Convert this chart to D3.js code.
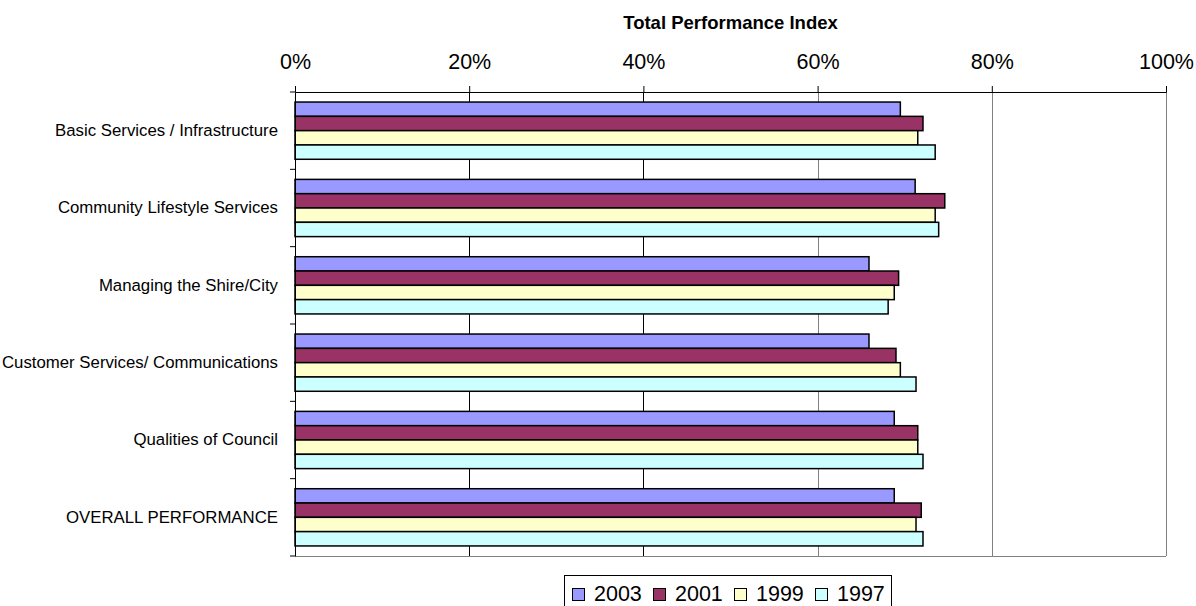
<!DOCTYPE html>
<html><head><meta charset="utf-8">
<script src="https://cdn.jsdelivr.net/npm/d3@7"></script>
<style>html,body{margin:0;padding:0;background:#fff;}svg{display:block;font-family:Arial,"Liberation Sans",sans-serif;}</style>
</head><body>
<svg id="c" width="1196" height="606"></svg>
<script>
const categories = ["Basic Services / Infrastructure","Community Lifestyle Services","Managing the Shire/City","Customer Services/ Communications","Qualities of Council","OVERALL PERFORMANCE"];
const seriesNames = ["2003","2001","1999","1997"];
const v2003 = [69.5, 71.2, 65.9, 65.9, 68.8, 68.8];
const v2001 = [72.1, 74.6, 69.3, 69.0, 71.5, 71.9];
const v1999 = [71.5, 73.5, 68.8, 69.5, 71.5, 71.3];
const v1997 = [73.5, 73.9, 68.1, 71.3, 72.1, 72.1];
const tickValues = [0, 20, 40, 60, 80, 100];
const colors = ["#9999FF","#993366","#FFFFCC","#CCFFFF"];
const seriesValues = [v2003, v2001, v1999, v1997];

const svg = d3.select("#c");
const L = 295, R = 1166, T = 92, B = 556;
const x = d3.scaleLinear().domain([0,100]).range([L,R]);
const y = d3.scaleBand().domain(categories).range([T,B]).paddingInner(0.26).paddingOuter(0.13);
const ys = d3.scaleBand().domain(seriesNames).range([0, y.bandwidth()]);
const yOuter = d3.scaleBand().domain(categories).range([T,B]);

// gridlines
svg.append("g").selectAll("line").data(tickValues.filter(d=>d>0)).join("line")
  .attr("x1",d=>Math.round(x(d))+0.5).attr("x2",d=>Math.round(x(d))+0.5)
  .attr("y1",T).attr("y2",B)
  .attr("stroke",d=>d<=40?"#000":"#808080").attr("stroke-width",1);
// bottom border
svg.append("line").attr("x1",L).attr("x2",R).attr("y1",B+0.5).attr("y2",B+0.5).attr("stroke","#808080");

// bars
const g = svg.append("g");
seriesNames.forEach((s,i)=>{
  g.selectAll(null).data(categories).join("rect")
    .attr("x",x(0))
    .attr("y",(c)=>y(c)+ys(s))
    .attr("width",(c,j)=>x(seriesValues[i][j])-x(0))
    .attr("height",ys.bandwidth())
    .attr("fill",colors[i]).attr("stroke","#000").attr("stroke-width",1.5);
});

// top axis
const xAxis = d3.axisTop(x).tickValues(tickValues).tickFormat(d=>d+"%").tickSize(6).tickPadding(17);
const ax = svg.append("g").attr("transform",`translate(0,${T})`).call(xAxis);
ax.select(".domain").attr("stroke","#000");
ax.selectAll(".tick line").attr("stroke","#000");
ax.selectAll("text").attr("font-size","21.5px").attr("fill","#000").style("font-family","Arial, 'Liberation Sans', sans-serif");

// left axis
const yAxis = d3.axisLeft(yOuter).tickSize(0).tickPadding(17);
const ay = svg.append("g").attr("transform",`translate(${L},0)`).call(yAxis);
ay.select(".domain").attr("stroke","#000");
ay.selectAll("text").attr("font-size","16.8px").attr("fill","#000").style("font-family","Arial, 'Liberation Sans', sans-serif");
// category separator ticks
svg.append("g").selectAll("line").data(categories.concat(["_end"])).join("line")
  .attr("x1",L-5).attr("x2",L)
  .attr("y1",(c,i)=>i<categories.length?yOuter(c):B).attr("y2",(c,i)=>i<categories.length?yOuter(c):B)
  .attr("stroke","#000");

// title
svg.append("text").attr("x",(L+R)/2).attr("y",29).attr("text-anchor","middle")
  .attr("font-size","18.5px").attr("font-weight","bold").text("Total Performance Index");

// legend
const lg = svg.append("g");
lg.append("rect").attr("x",564.5).attr("y",575.5).attr("width",327).attr("height",40).attr("fill","#fff").attr("stroke","#000");
const lx = d3.scaleBand().domain(seriesNames).range([572,896]);
seriesNames.forEach((s,i)=>{
  lg.append("rect").attr("x",lx(s)+0.5).attr("y",588.5).attr("width",12).attr("height",12).attr("fill",colors[i]).attr("stroke","#000");
  lg.append("text").attr("x",lx(s)+22).attr("y",601).attr("font-size","21.5px").text(s);
});
</script>
</body></html>
